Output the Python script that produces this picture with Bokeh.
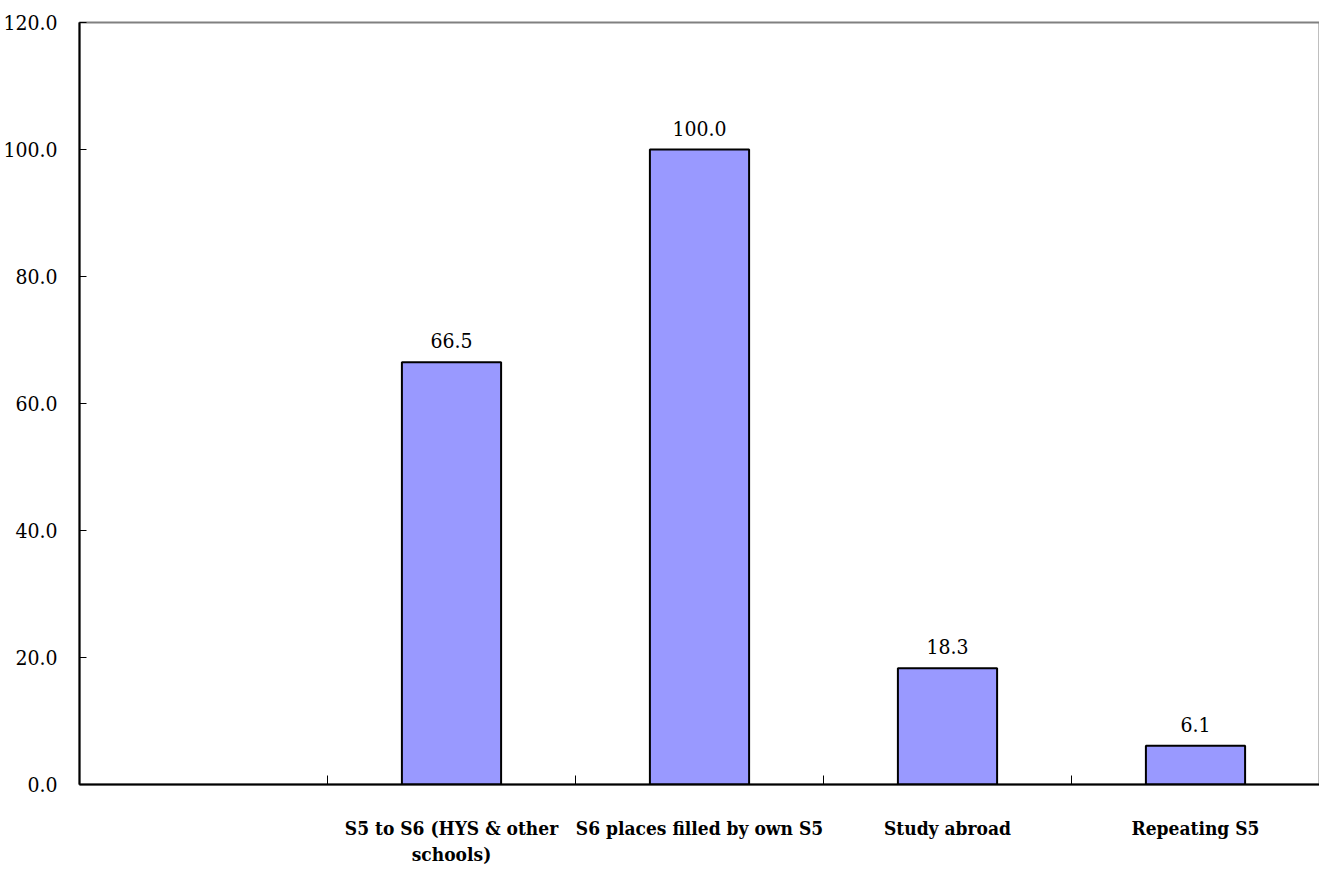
from bokeh.plotting import figure
from bokeh.models import FixedTicker, ColumnDataSource, NumeralTickFormatter
from bokeh.core.properties import value
from bokeh.embed import file_html
from bokeh.resources import INLINE

categories = ["", "S5 to S6 (HYS & other\nschools)", "S6 places filled by own S5", "Study abroad", "Repeating S5"]
values = [None, 66.5, 100.0, 18.3, 6.1]
y_ticks = [0, 20, 40, 60, 80, 100, 120]

centers = [i + 0.5 for i in range(len(categories))]
boundaries = [i for i in range(1, len(categories))]
bx = [c for c, v in zip(centers, values) if v is not None]
bv = [v for v in values if v is not None]
src = ColumnDataSource(dict(x=bx, top=bv, label=[f"{v:.1f}" for v in bv]))

FONT = "DejaVu Serif Condensed"

p = figure(width=1311, height=880, frame_width=1240, frame_height=762,
           x_range=(0, len(categories)), y_range=(0, 120),
           output_backend="svg", toolbar_location=None,
           min_border_left=70, min_border_top=22, min_border_right=1, min_border_bottom=96)

p.vbar(x="x", top="top", bottom=0, width=0.4, source=src,
       fill_color="#9999FF", line_color="black", line_width=2)
p.text(x="x", y="top", text="label", source=src, text_align="center", text_baseline="bottom",
       y_offset=-14, text_font=value(FONT), text_font_size="21px", text_color="black")

p.grid.visible = False
p.outline_line_color = "#808080"
p.outline_line_width = 2
p.background_fill_color = "white"
p.border_fill_color = "white"

xa = p.xaxis[0]
xa.ticker = FixedTicker(ticks=centers, minor_ticks=boundaries)
xa.major_label_overrides = {c: lab for c, lab in zip(centers, categories)}
xa.major_tick_in = 0
xa.major_tick_out = 0
xa.minor_tick_in = 9
xa.minor_tick_out = 0
xa.minor_tick_line_color = "black"
xa.minor_tick_line_width = 1
xa.axis_line_color = "black"
xa.axis_line_width = 2
xa.major_label_standoff = 32
xa.major_label_text_font = FONT
xa.major_label_text_font_style = "bold"
xa.major_label_text_font_size = "19px"
xa.major_label_text_color = "black"

ya = p.yaxis[0]
ya.ticker = FixedTicker(ticks=y_ticks)
ya.formatter = NumeralTickFormatter(format="0.0")
ya.major_tick_in = 7
ya.major_tick_out = 0
ya.minor_tick_in = 0
ya.minor_tick_out = 0
ya.major_tick_line_color = "black"
ya.axis_line_color = "black"
ya.axis_line_width = 2
ya.major_label_standoff = 22
ya.major_label_text_font = FONT
ya.major_label_text_font_size = "21px"
ya.major_label_text_color = "black"

open("out.html", "w").write(file_html(p, INLINE))
